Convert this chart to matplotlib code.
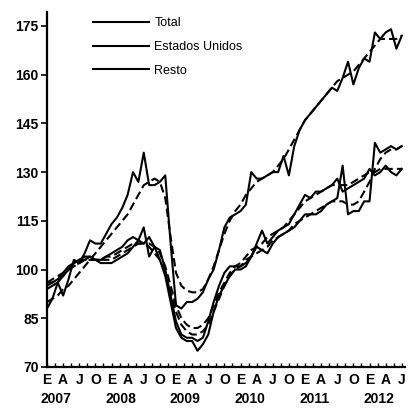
import matplotlib
matplotlib.use("Agg")
import matplotlib.pyplot as plt
import numpy as np

plt.rcParams['font.family'] = ['Liberation Sans', 'DejaVu Sans']

# monthly, Jan 2007 .. Jul 2012
total = [94, 95, 96, 98, 100, 102, 103, 103, 104, 103, 102, 102,
         102, 103, 104, 105, 107, 109, 113, 104, 107, 103, 98, 90,
         82, 79, 78, 78, 75, 77, 80, 87, 92, 95, 98, 100,
         100, 101, 104, 107, 106, 105, 108, 110, 111, 112, 113, 115,
         117, 117, 117, 118, 120, 121, 122, 132, 117, 118, 118, 121,
         121, 139, 136, 137, 138, 137, 138]
eeuu = [96, 96, 97, 99, 101, 102, 103, 104, 104, 103, 103, 104,
        105, 106, 107, 109, 110, 109, 108, 110, 107, 106, 100, 92,
        84, 80, 79, 79, 78, 79, 84, 90, 95, 99, 101, 101,
        101, 102, 104, 108, 112, 108, 110, 112, 113, 114, 117, 120,
        123, 122, 124, 124, 125, 126, 128, 124, 125, 126, 127, 128,
        131, 129, 130, 132, 130, 129, 131]
resto = [88, 91, 96, 92, 97, 103, 102, 105, 109, 108, 108, 111,
         114, 116, 119, 123, 130, 127, 136, 126, 126, 127, 129, 108,
         89, 88, 90, 90, 91, 93, 97, 100, 106, 113, 116, 117,
         118, 120, 130, 128, 128, 129, 130, 130, 135, 129, 138, 143,
         146, 148, 150, 152, 154, 156, 155, 159, 164, 157, 162, 165,
         164, 173, 171, 173, 174, 168, 172]

# trend-cycle (dashed)
total_tc = [95, 96, 97, 98, 100, 101, 102, 103, 103, 103, 103, 103,
            103, 104, 105, 106, 107, 108, 108, 107, 105, 103, 99, 93,
            87, 83, 81, 80, 80, 81, 83, 87, 91, 95, 98, 100,
            101, 103, 104, 105, 106, 107, 109, 110, 111, 112, 114, 115,
            116, 117, 118, 119, 120, 121, 121, 121, 120, 120, 121, 124,
            127, 131, 134, 136, 137, 137, 138]
eeuu_tc = [96, 97, 98, 99, 100, 101, 102, 103, 103, 103, 103, 104,
           104, 105, 106, 107, 108, 108, 108, 108, 107, 105, 101, 95,
           89, 85, 83, 82, 82, 83, 85, 89, 93, 96, 99, 101,
           102, 104, 106, 107, 108, 110, 111, 112, 113, 115, 117, 119,
           121, 122, 123, 124, 125, 126, 126, 126, 126, 127, 128, 129,
           130, 130, 131, 131, 131, 131, 131]
resto_tc = [90, 91, 92, 94, 95, 97, 99, 101, 103, 105, 107, 109,
            111, 113, 115, 117, 120, 123, 126, 127, 128, 127, 122, 110,
            99, 95, 93.5, 93, 93, 94, 97, 101, 106, 111, 115, 118,
            120, 123, 125, 127, 128, 129, 130, 132, 134, 137, 140, 143,
            146, 148, 150, 152, 154, 156, 158, 159, 160, 161, 163, 165,
            167, 169, 171, 171, 171, 171, 172]

month_letters = ["E", "A", "J", "O"]
years = [2007, 2008, 2009, 2010, 2011, 2012]

x = np.arange(len(total))

fig = plt.figure(figsize=(4.12, 4.09), dpi=100)
ax = fig.add_axes([47/412, 1-367/409, (405-47)/412, (367-12)/409])

lw = 1.5
ax.plot(x, total, 'k-', lw=lw, label="Total")
ax.plot(x, eeuu, 'k-', lw=lw, label="Estados Unidos")
ax.plot(x, resto, 'k-', lw=lw, label="Resto")
for tc in (total_tc, eeuu_tc, resto_tc):
    ax.plot(x, tc, color='k', lw=lw, ls=(0, (4, 2)))

ax.set_xlim(0, 66.6)
ax.set_ylim(70, 179.3)
ax.set_yticks(np.arange(70, 176, 15))
ax.tick_params(axis='y', direction='out', length=4, width=1.2, labelsize=10, pad=2)

qpos = np.arange(0, 67, 3)
ax.set_xticks(qpos)
ax.set_xticklabels([month_letters[i % 4] for i in range(len(qpos))])
ax.set_xticks(np.arange(1.5, 66, 3), minor=True)
ax.tick_params(axis='x', which='both', direction='in', length=3, width=1.0, labelsize=10, pad=4)
for lab in ax.get_xticklabels() + ax.get_yticklabels():
    lab.set_fontweight('bold')

for i, yr in enumerate(years):
    ax.text(12*i + 1.7, -0.09, str(yr), transform=ax.get_xaxis_transform(),
            ha='center', va='center', fontsize=10, fontweight='bold')

for s in ('top', 'right'):
    ax.spines[s].set_visible(False)
ax.spines['left'].set_linewidth(1.6)
ax.spines['bottom'].set_linewidth(1.6)

ax.legend(loc='upper left', bbox_to_anchor=(93/412, 1-17/409), bbox_transform=fig.transFigure,
          frameon=False, fontsize=9, handlelength=4.5, handletextpad=0.4,
          labelspacing=0.95, borderpad=0, borderaxespad=0)

fig.savefig("out.png", dpi=100)
